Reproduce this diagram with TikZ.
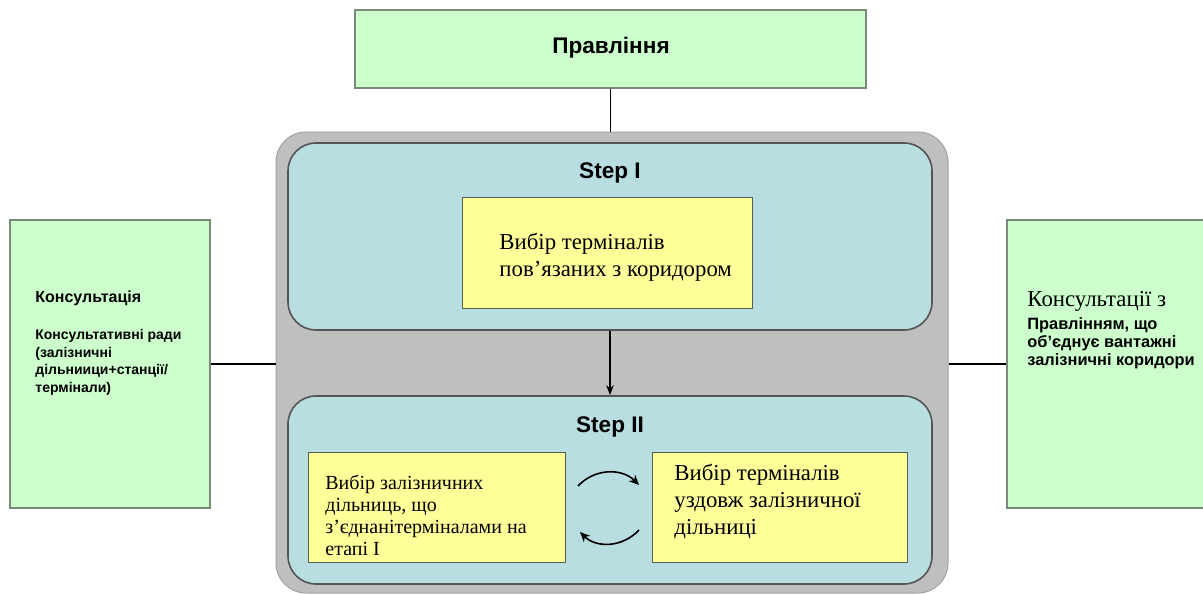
\documentclass[tikz,border=0pt]{standalone}
\usepackage{fontspec}
\setmainfont{Liberation Serif}
\setsansfont{Liberation Sans}
\usetikzlibrary{arrows.meta,fit,positioning}
\definecolor{Mint}{HTML}{CCFFCC}
\definecolor{Frame}{HTML}{7A8A7A}
\definecolor{Shell}{HTML}{BFBFBF}
\definecolor{Pool}{HTML}{B9DEE2}
\definecolor{Lemon}{HTML}{FFFF99}
\definecolor{Edge}{HTML}{555555}
\tikzset{
  board/.style={draw=Frame, fill=Mint, line width=0.6pt, inner sep=0pt},
  shell/.style={fill=Shell, draw=Shell!85!black, line width=0.5pt,
    rounded corners=15pt, inner sep=0pt},
  stage/.style={fill=Pool, draw=Edge, line width=0.8pt,
    rounded corners=14pt, inner sep=0pt},
  choice/.style={draw=Frame!70!black, fill=Lemon, line width=0.5pt, inner sep=0pt},
  title/.style={font=\sffamily\bfseries\fontsize{11.3}{13}\selectfont},
  small/.style={font=\sffamily\bfseries\fontsize{7}{8.8}\selectfont,
    align=left, inner sep=0pt},
  serifbig/.style={font=\fontsize{11.4}{13.5}\selectfont, align=left, inner sep=0pt},
  serifmid/.style={font=\fontsize{10}{11}\selectfont, align=left, inner sep=0pt},
  link/.style={line width=0.8pt, draw=black},
  flow/.style={-{Stealth[length=5pt]}, line width=0.8pt},
  turn/.style={-{Stealth[length=5pt,width=4.5pt]}, line width=0.8pt}
}

\begin{document}
\begin{tikzpicture}[x=0.5pt,y=-0.5pt]
  \useasboundingbox (0,0) rectangle (1203,594);
  % top board
  \node[board, fit={(355,10) (866,88)}] (gov) {};
  \node[title] at (611,48) (govtext) {Правління};
  % grey frame with the two steps
  \node[shell, fit={(276,132) (948,593)}] (frame) {};
  \node[stage, fit={(288,143) (932,330)}] (stepA) {};
  \node[stage, fit={(288,396) (932,584)}] (stepB) {};
  \node[title] at (610,173) (nameA) {Step I};
  \node[title] at (610,427) (nameB) {Step II};
  % step I
  \node[choice, fit={(462,197) (752,308)}] (pickA) {};
  \node[serifbig, anchor=west] at (499,257) (pickAtext)
    {Вибір терміналів\\пов'язаних з коридором};
  % step II
  \node[choice, fit={(308,452) (565,562)}] (pickB) {};
  \node[choice, fit={(652,452) (907,562)}] (pickC) {};
  \node[serifmid, anchor=west] at (325,515) (pickBtext)
    {Вибір залізничних\\дільниць, що\\з'єднанітерміналами на\\етапі I};
  \node[serifbig, anchor=west] at (674,502) (pickCtext)
    {Вибір терміналів\\уздовж залізничної\\дільниці};
  \coordinate (swapA) at (578,486);
  \coordinate (swapB) at (639,485);
  \coordinate (swapC) at (639,530);
  \coordinate (swapD) at (580,532);
  % side boards
  \node[board, fit={(10,220) (210,508)}] (consL) {};
  \node[small, anchor=north west] at (35,291) (consLtext)
    {{\fontsize{8}{8.8}\selectfont Консультація}\\[9.5pt]
     Консультативні ради\\(залізничні\\дільниици+станції/\\термінали)};
  \node[board, fit={(1007,220) (1215,508)}] (consR) {};
  \node[serifbig, anchor=north west] at (1027,291) (consRhead) {Консультації з};
  \node[small, font=\sffamily\bfseries\fontsize{8.2}{9.2}\selectfont,
    anchor=north west] at ([yshift=-2.5pt]consRhead.south west) (consRtext)
    {Правлінням, що\\об'єднує вантажні\\залізничні коридори};
  % connectors
  \draw[link] (gov.south) -- (gov.south |- frame.north);
  \draw[link] (consL.east) -- (consL.east -| frame.west);
  \draw[link] (consR.west) -- (consR.west -| frame.east);
  \draw[flow] (stepA.south) -- (stepB.north);
  \draw[turn] (swapA) .. controls (595,468) and (622,468) .. (swapB);
  \draw[turn] (swapC) .. controls (622,548) and (596,548) .. (swapD);
\end{tikzpicture}
\end{document}
